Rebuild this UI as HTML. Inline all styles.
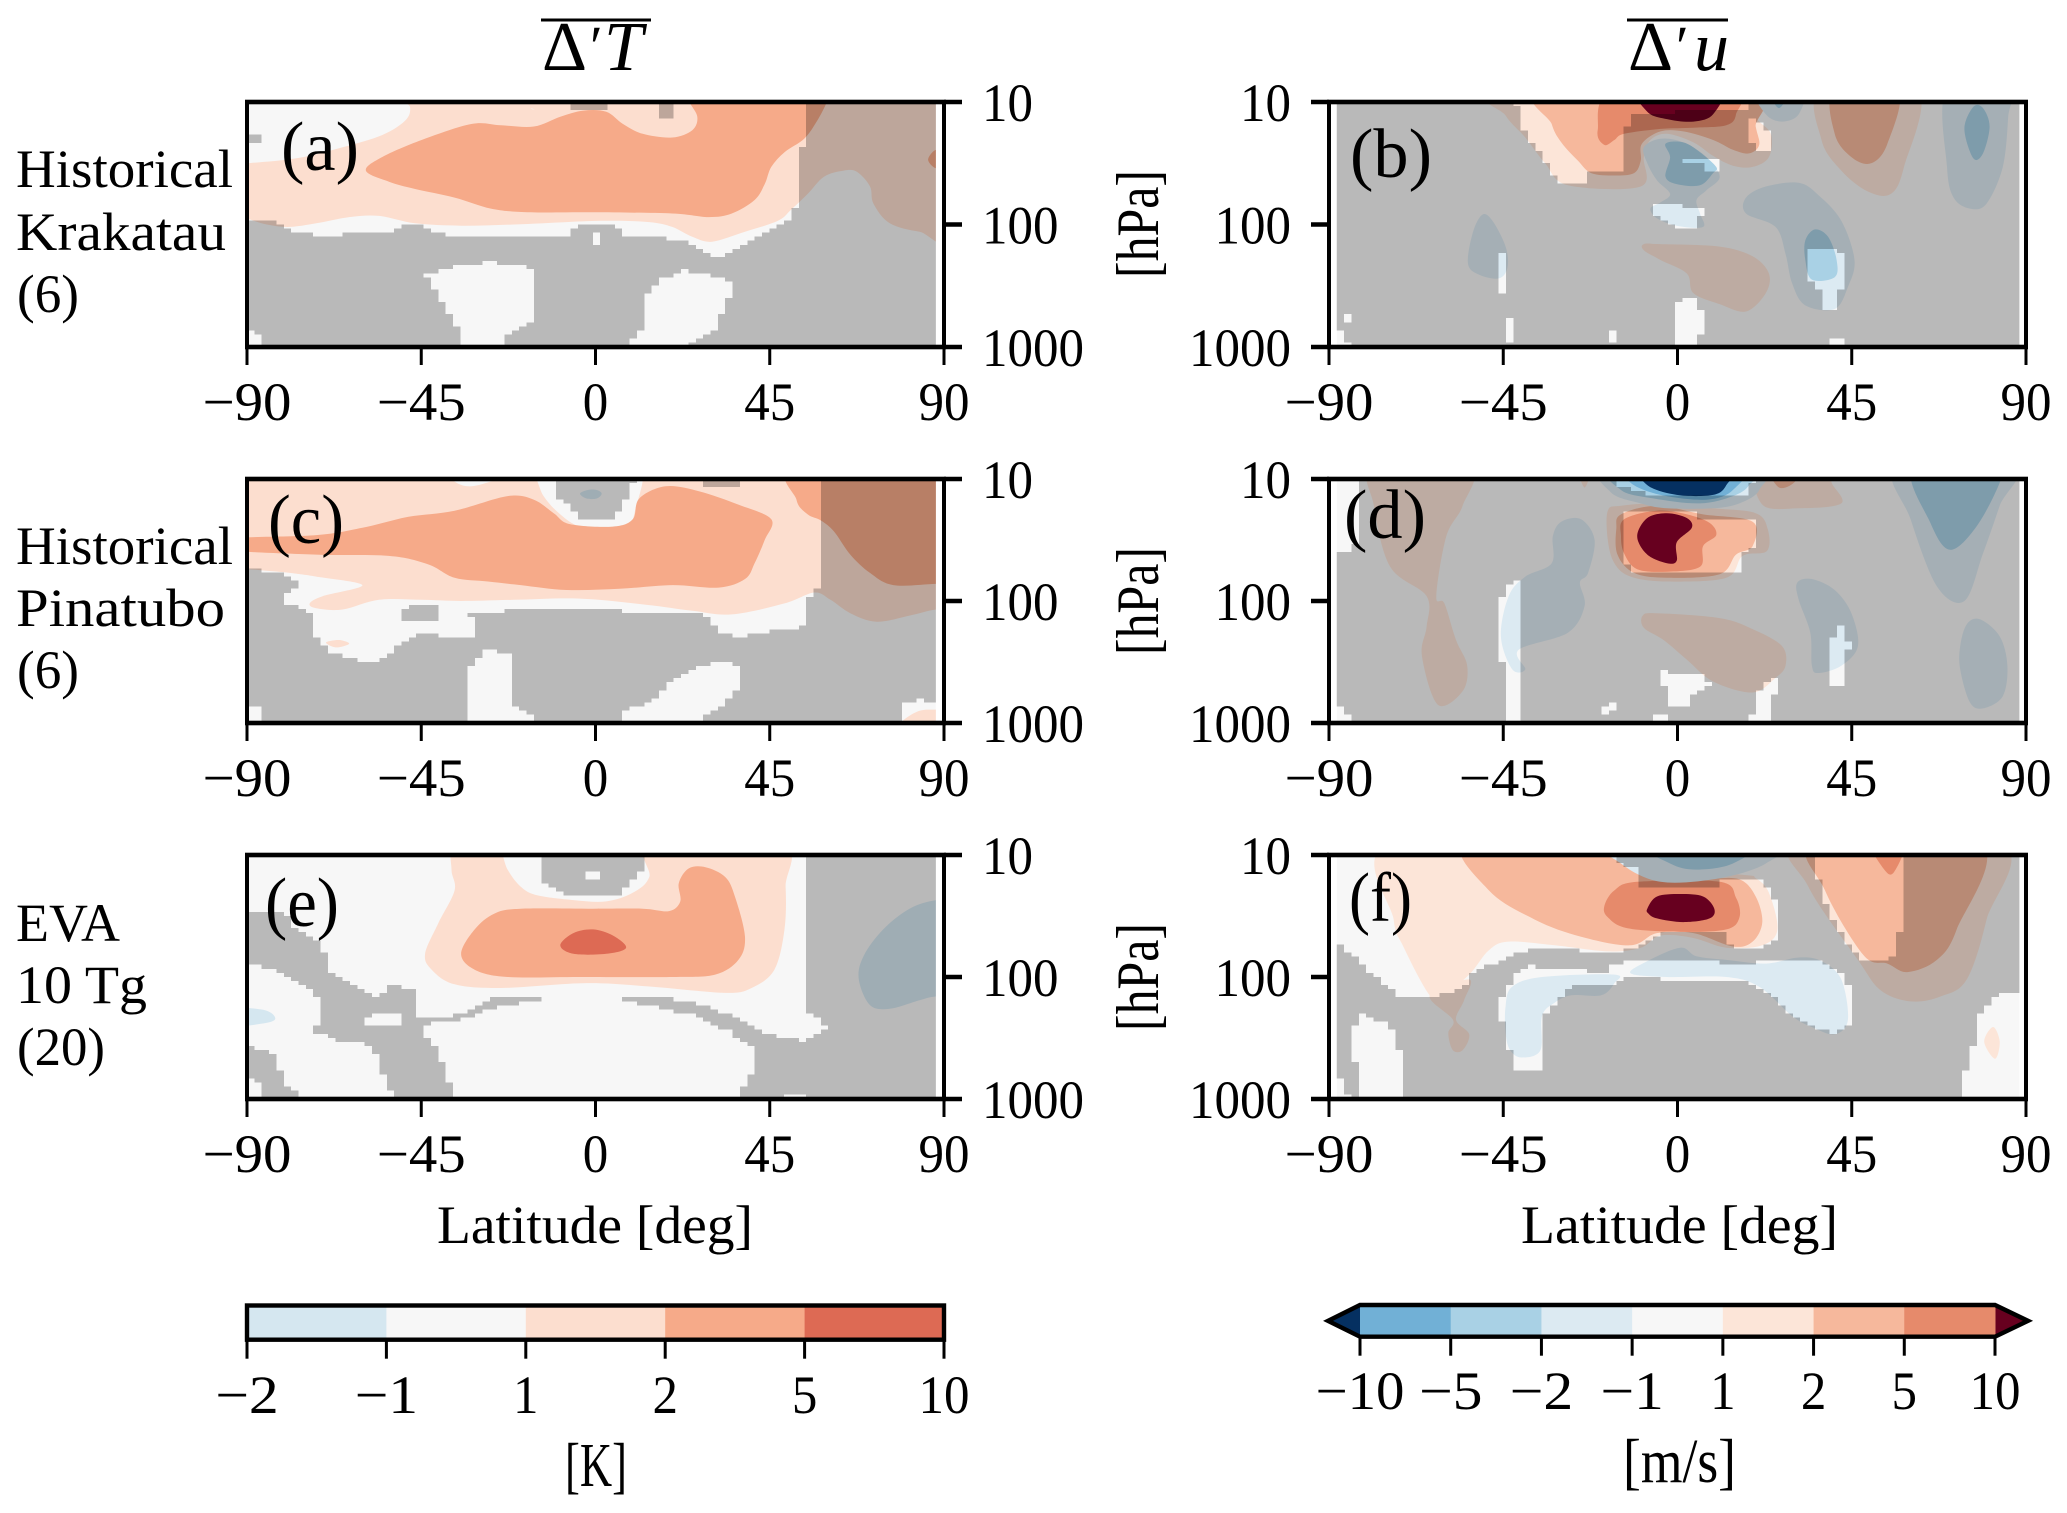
<!DOCTYPE html>
<html lang="en">
<head>
<meta charset="utf-8">
<title>Zonal mean temperature and wind anomalies</title>
<style>
html,body{margin:0;padding:0;background:#fff;width:2067px;height:1513px;overflow:hidden}
svg{display:block}
text{font-family:"Liberation Serif",serif;font-size:54px;fill:#000}
</style>
</head>
<body>
<svg id="figure" xmlns="http://www.w3.org/2000/svg" width="2067" height="1513" viewBox="0 0 2067 1513">
  <rect x="0" y="0" width="2067" height="1513" fill="#fff"/>
  <defs id="clips"></defs>
  <g id="panels"></g>
  <g id="colorbars"></g>

  <g>
    <line x1="541" x2="651" y1="20" y2="20" stroke="#000" stroke-width="3"/>
    <text y="70" style="font-size:70px"><tspan x="542">Δ</tspan><tspan x="590" y="66" style="font-size:58px">′</tspan><tspan x="604" y="70" font-style="italic">T</tspan></text>
  </g>
  <g>
    <line x1="1627" x2="1728" y1="20" y2="20" stroke="#000" stroke-width="3"/>
    <text y="70" style="font-size:70px"><tspan x="1628">Δ</tspan><tspan x="1676" y="66" style="font-size:58px">′</tspan><tspan x="1694" y="70" font-style="italic">u</tspan></text>
  </g>

  <text x="16" y="187" textLength="217" lengthAdjust="spacingAndGlyphs">Historical</text>
  <text x="16" y="250" textLength="210" lengthAdjust="spacingAndGlyphs">Krakatau</text>
  <text x="17" y="312" textLength="62" lengthAdjust="spacingAndGlyphs">(6)</text>
  <text x="16" y="564" textLength="217" lengthAdjust="spacingAndGlyphs">Historical</text>
  <text x="16" y="626" textLength="209" lengthAdjust="spacingAndGlyphs">Pinatubo</text>
  <text x="17" y="688" textLength="62" lengthAdjust="spacingAndGlyphs">(6)</text>
  <text x="16" y="941" textLength="104" lengthAdjust="spacingAndGlyphs">EVA</text>
  <text x="16" y="1003" textLength="131" lengthAdjust="spacingAndGlyphs">10 Tg</text>
  <text x="17" y="1065" textLength="88" lengthAdjust="spacingAndGlyphs">(20)</text>

  <text transform="translate(1158,278) rotate(-90)" style="font-size:60px" textLength="108" lengthAdjust="spacingAndGlyphs">[hPa]</text>
  <text transform="translate(1158,655) rotate(-90)" style="font-size:60px" textLength="108" lengthAdjust="spacingAndGlyphs">[hPa]</text>
  <text transform="translate(1158,1031) rotate(-90)" style="font-size:60px" textLength="108" lengthAdjust="spacingAndGlyphs">[hPa]</text>

  <text x="437" y="1243" textLength="316" lengthAdjust="spacingAndGlyphs">Latitude [deg]</text>
  <text x="1521" y="1243" textLength="317" lengthAdjust="spacingAndGlyphs">Latitude [deg]</text>
  <text x="565" y="1486" style="font-size:62px" textLength="62" lengthAdjust="spacingAndGlyphs">[K]</text>
  <text x="1623" y="1482" style="font-size:62px" textLength="113" lengthAdjust="spacingAndGlyphs">[m/s]</text>

  <g id="panel-letters">
    <text x="281" y="170" style="font-size:70px" textLength="78" lengthAdjust="spacingAndGlyphs">(a)</text>
    <text x="1350" y="177" style="font-size:70px" textLength="82" lengthAdjust="spacingAndGlyphs">(b)</text>
    <text x="268" y="543" style="font-size:70px" textLength="76" lengthAdjust="spacingAndGlyphs">(c)</text>
    <text x="1344" y="538" style="font-size:70px" textLength="82" lengthAdjust="spacingAndGlyphs">(d)</text>
    <text x="265" y="926" style="font-size:70px" textLength="74" lengthAdjust="spacingAndGlyphs">(e)</text>
    <text x="1349" y="921" style="font-size:70px" textLength="63" lengthAdjust="spacingAndGlyphs">(f)</text>
  </g>
</svg>

<script>
// ---- shared axis data ----
const latTicks = [-90, -45, 0, 45, 90];
const pressureTicks = [10, 100, 1000];
const tempBins = [-2, -1, 1, 2, 5, 10];
const windBins = [-10, -5, -2, -1, 1, 2, 5, 10];

// ---- panel (a) temperature: [level, [[lat, log10 hPa], ...]] ----
const panelAContours = [
 [1, [[-94,1.5],[-90,1.5],[-77.2,1.46],[-65.3,1.37],[-55.1,1.27],[-49.1,1.15],[-47.9,1.04],[-50,.93],[-21.9,.97],[-15.9,1.06],[-10.8,.97],[92,.9],[92,2.08],[83.7,2.06],[76,1.99],[71.8,1.83],[70.9,1.69],[67.5,1.57],[64.1,1.56],[59,1.61],[54.8,1.75],[50.5,1.88],[47.1,1.97],[38.6,2.06],[30.1,2.14],[25,2.1],[19.8,2.02],[13.9,1.98],[2.8,1.97],[-7.4,1.98],[-21,2],[-34.7,2.01],[-46.6,1.99],[-55.9,1.93],[-63.6,1.94],[-72.1,1.99],[-78.9,2.02],[-84.9,2],[-90,1.95],[-94,1.9]]],
 [2, [[-59.3,1.56],[-55.1,1.45],[-44.9,1.31],[-32.1,1.18],[-24.4,1.19],[-15.9,1.2],[-9.1,1.12],[-3.1,1.07],[2.8,1.08],[7.1,1.18],[12.2,1.26],[19.8,1.29],[25,1.23],[26.3,1.12],[24.1,.99],[24,.9],[60.7,.9],[59.9,.99],[57.3,1.15],[53.9,1.3],[48.8,1.41],[45.4,1.53],[43.7,1.67],[41.1,1.8],[35.2,1.91],[29.2,1.94],[19.8,1.91],[-.6,1.9],[-17.6,1.9],[-27,1.87],[-36.4,1.78],[-46.6,1.71],[-53.4,1.65]]],
 [2, [[88,1.39],[85.9,1.47],[88,1.54],[90,1.47]]]
];
const panelAOpenRegions = [
 [[-94,.9],[53.9,.9],[53.9,1.31],[51.9,1.5],[51.9,1.87],[48.8,1.98],[42,2.1],[33.5,2.25],[30.9,2.26],[26.7,2.18],[19.8,2.12],[6.2,2.09],[5.9,2.02],[-3.1,1.99],[-7.4,2.09],[-35.5,2.11],[-41.5,2.05],[-47.4,1.99],[-54.2,2.07],[-72.1,2.09],[-80.6,2.03],[-82.3,1.95],[-94,1.95]],
 [[-6,.9],[3.7,.9],[3.7,1.06],[-6,1.06]],
 [[16.1,.9],[19.8,.9],[19.8,1.13],[16.1,1.13]],
 [[-90,1.28],[-86,1.28],[-86,1.33],[-90,1.33]],
 [[-.6,2.08],[2,2.08],[2,2.15],[-.6,2.15]],
 [[-44,2.41],[-38.1,2.36],[-28.7,2.31],[-18.5,2.33],[-16.3,2.39],[-16.3,2.78],[-22.7,2.89],[-24.1,3.05],[-33.8,3.05],[-36.4,2.78],[-39.8,2.63],[-42.3,2.51]],
 [[16.4,2.46],[23.2,2.37],[31.8,2.43],[36,2.5],[33.5,2.67],[30.9,2.85],[25,2.97],[23.2,3.05],[5.4,3.05],[12.2,2.86],[12.2,2.71],[13.9,2.54]],
 [[-94,2.83],[-86,2.9],[-86,3.05],[-94,3.05]]
];

// ---- panel (b) wind ----
const panelBContours = [
 [1, [[-46.5,.9],[-44.4,1.11],[-39.3,1.29],[-34.2,1.5],[-28.3,1.68],[-9.5,1.69],[-8.7,1.45],[-7,1.31],[-2.7,1.26],[4.1,1.33],[9.2,1.44],[14.3,1.52],[19.4,1.53],[23.6,1.45],[24.1,1.26],[20.2,1.12],[18.5,.9]]],
 [1, [[37.2,.9],[37.2,1.31],[42.3,1.56],[49.1,1.73],[55.1,1.75],[58.5,1.53],[61.9,.9]]],
 [1, [[-8.7,2.16],[-4.4,2.16],[10.9,2.18],[19.4,2.26],[23.6,2.4],[22.8,2.56],[17.7,2.71],[10.9,2.65],[4.1,2.56],[2.4,2.4],[-4.4,2.29],[-8.7,2.21]]],
 [2, [[-34.2,.9],[-32.5,1.18],[-30,1.33],[-25.7,1.48],[-22.3,1.58],[-16.3,1.6],[-11.2,1.58],[-9.5,1.48],[-9.2,1.34],[-4.4,1.24],[1.5,1.24],[9.2,1.31],[14.3,1.39],[18.5,1.42],[21.1,1.35],[20.2,1.2],[18.5,.9]]],
 [2, [[40.6,.9],[40.6,1.26],[44.9,1.45],[50,1.5],[54.2,1.34],[56.8,.9]]],
 [5, [[-16.3,.9],[-20.6,1.23],[-18.9,1.35],[-16.3,1.31],[-13.8,1.26],[-4.4,1.22],[4.1,1.21],[12.6,1.19],[15.1,1.1],[14.3,.9]]],
 [10, [[-9.5,.9],[-7.8,1.08],[-2.7,1.14],[4.1,1.16],[9.2,1.1],[10.4,.9]]],
 [-1, [[-8.7,1.37],[-4.4,1.3],[1.5,1.33],[7.5,1.45],[10.9,1.61],[7.5,1.72],[4.9,1.8],[5.8,1.91],[6.6,2.02],[-.2,2.01],[-5.3,1.95],[-7,1.87],[-4.4,1.82],[-1.9,1.75],[-5.3,1.64],[-7.8,1.5]]],
 [-2, [[-3.1,1.34],[1.5,1.33],[5.8,1.41],[10,1.53],[9.2,1.58],[5.8,1.68],[-.2,1.67],[-3.1,1.61],[-1.9,1.45]]],
 [-1, [[20.2,.9],[22.8,1.1],[27,1.16],[31.3,1.1],[32.1,.9]]],
 [-2, [[23.6,.9],[26.2,1.05],[28.7,.9]]],
 [-1, [[69.6,.9],[69.6,1.53],[71.3,1.78],[75.5,1.87],[79.8,1.83],[84,1.53],[85.4,1.12],[85.4,.9]]],
 [-2, [[76.4,1.04],[74.1,1.22],[76.4,1.46],[78.9,1.42],[80.6,1.2],[78.9,1.05]]],
 [-1, [[17.7,1.78],[22.8,1.69],[31.3,1.66],[36.4,1.76],[42.3,1.97],[45.7,2.29],[44,2.51],[40.6,2.69],[33,2.66],[29.6,2.48],[27.9,2.24],[25.3,2.02],[17.7,1.91]]],
 [-2, [[35.5,2.04],[38.9,2.1],[41.1,2.29],[40.6,2.43],[34.7,2.45],[33,2.29],[33,2.13]]],
 [-1, [[-50.4,1.92],[-47.8,1.97],[-44.4,2.18],[-43.9,2.35],[-46.1,2.44],[-51.2,2.41],[-54.1,2.32],[-52.9,2.07]]]
];
const panelBOpenRegions = [
 [[-41.9,.9],[18.5,.9],[18.5,1.05],[10,1.06],[-7,1.1],[-12.1,1.12],[-14.1,1.34],[-14.1,1.5],[-14.6,1.57],[-24,1.58],[-24,1.66],[-30,1.66],[-33.4,1.53],[-35.9,1.39],[-39.3,1.26],[-41,1.15]],
 [[17.7,1.12],[20.2,1.12],[24.1,1.26],[24.1,1.4],[20.2,1.4],[18.5,1.26]],
 [[2,1.45],[10,1.45],[10,1.56],[6.1,1.56],[6.1,1.5],[2,1.5]],
 [[-5.8,1.84],[1.5,1.84],[2,1.88],[7.8,1.88],[7.8,1.91],[5.8,1.92],[5.8,2.02],[.3,2.02],[-3.6,1.98],[-3.6,1.94],[-5.8,1.92]],
 [[-46.1,2.23],[-44,2.23],[-44,2.55],[-46.1,2.55]],
 [[33.8,2.21],[36.4,2.2],[41.5,2.2],[44,2.26],[44,2.48],[41.8,2.56],[41.8,2.69],[38.1,2.69],[38.1,2.56],[36,2.51],[33.8,2.44]],
 [[-.2,2.62],[4.1,2.59],[5.8,2.69],[7.8,2.7],[7.8,2.86],[5.8,2.89],[4.1,3.05],[-.2,3.05]],
 [[-43.9,2.76],[-41.9,2.76],[-41.9,2.95],[-43.9,2.95]],
 [[-18,2.85],[-16,2.85],[-16,2.95],[-18,2.95]],
 [[39.8,2.94],[44,2.94],[44,3.05],[39.8,3.05]],
 [[-92,2.87],[-86,2.87],[-86,2.95],[-84,2.97],[-84,3.05],[-92,3.05]],
 [[-86,2.74],[-84,2.74],[-84,2.8],[-86,2.8]]
];

// ---- panel (c) temperature ----
const panelCContours = [
 [1, [[-95,.9],[-38.1,.9],[-37.2,1],[-33,1.06],[-27,1.02],[-17.6,.9],[-13.4,1.14],[-9.1,1.29],[-4,1.39],[3.7,1.4],[8.8,1.37],[10.5,1.22],[12.2,1.01],[11.3,.9],[95,.9],[95,2.07],[88,2.07],[81.1,2.12],[72.6,2.17],[65.8,2.1],[60.7,1.99],[56.5,1.93],[48.8,2.02],[35.2,2.11],[25,2.08],[13,2.03],[-4,1.98],[-21,1.99],[-34.7,2],[-44.9,1.99],[-55.9,1.99],[-65.3,2.07],[-72.1,2.06],[-73.8,2.02],[-70.4,1.96],[-60.2,1.87],[-72.1,1.8],[-78.9,1.77],[-85.7,1.75],[-90,1.74],[-95,1.74]]],
 [1, [[-69.6,2.34],[-66.2,2.32],[-63.6,2.35],[-67,2.38]]],
 [1, [[79.4,2.98],[83.7,2.9],[88,2.89],[95,2.89],[95,3.1],[76,3.1]]],
 [2, [[-95,1.49],[-72.1,1.46],[-60.2,1.4],[-48.3,1.31],[-36.4,1.26],[-22.7,1.14],[-15.9,1.17],[-10.8,1.28],[-6.6,1.37],[4.5,1.39],[9.6,1.33],[11.3,1.16],[18.1,1.06],[26.7,1.1],[36.9,1.21],[45.4,1.33],[43.7,1.5],[41.1,1.69],[38.6,1.82],[31.8,1.89],[19.8,1.87],[6.2,1.9],[-7.4,1.91],[-19.3,1.87],[-27.8,1.84],[-36.4,1.81],[-43.2,1.7],[-53.4,1.63],[-72.1,1.62],[-95,1.58]]],
 [2, [[52.2,.9],[51.9,1.17],[54.8,1.29],[58.2,1.34],[61.6,1.43],[65.8,1.62],[70.9,1.77],[76.9,1.87],[88,1.86],[95,1.86],[95,.9]]],
 [-1, [[-4,1.12],[-2,1.09],[.3,1.09],[1.6,1.12],[.3,1.16],[-2.3,1.16]]]
];
const panelCOpenRegions = [
 [[-95,.9],[57.8,.9],[57.8,1.87],[55.6,1.94],[54.8,2.07],[53.9,2.21],[48.8,2.23],[36.9,2.29],[31.8,2.25],[30.1,2.15],[26.7,2.11],[4.5,2.08],[-8.3,2.06],[-27.8,2.09],[-32.1,2.11],[-30.4,2.32],[-36.4,2.3],[-44.9,2.27],[-48.3,2.3],[-51.7,2.4],[-55.1,2.48],[-60.2,2.49],[-67.9,2.43],[-70.4,2.37],[-72.1,2.3],[-72.5,2.15],[-75.5,2.07],[-79.8,2.02],[-79.8,1.93],[-76.4,1.89],[-76.4,1.84],[-81.5,1.76],[-90,1.74],[-95,1.74]],
 [[-12,.9],[-10,1.13],[-6.6,1.24],[-4,1.33],[3.7,1.33],[7.1,1.22],[10,1.02],[10,.9]],
 [[28,.9],[37.7,.9],[37.7,1.05],[28,1.05]],
 [[-50,2.07],[-47.4,2.02],[-42.3,2.02],[-40.1,2.08],[-40.6,2.15],[-44.9,2.18],[-50,2.17]],
 [[-32.1,2.53],[-29.5,2.43],[-27,2.38],[-22.4,2.45],[-22.4,2.83],[-15.9,2.96],[-15.9,3.05],[-32.1,3.05]],
 [[6.2,3.05],[6.2,2.93],[16.4,2.78],[18.1,2.68],[25,2.56],[33.5,2.49],[37.7,2.55],[37.7,2.68],[33.5,2.83],[28.4,2.93],[28.4,3.05]],
 [[-95,2.82],[-86,2.87],[-86,3.05],[-95,3.05]],
 [[79.8,2.83],[83.7,2.81],[88,2.85],[95,2.85],[95,3.05],[79.8,3.05]]
];

// ---- panel (d) wind ----
const panelDContours = [
 [1, [[-78.4,.9],[-78.4,1.22],[-74.2,1.72],[-64.8,1.96],[-64.8,2.21],[-66,2.45],[-61.9,2.85],[-55.5,2.74],[-54.3,2.53],[-57.2,2.32],[-60.2,2.02],[-62.3,1.96],[-59.7,1.47],[-55.5,1.22],[-53.8,.9]]],
 [1, [[-25.7,.9],[-24,1.07],[-22.3,.9]]],
 [1, [[21.1,.9],[21.9,1.21],[31.3,1.24],[42.3,1.2],[39.8,1.03],[38.9,.9]]],
 [2, [[23.6,.9],[26.2,1.07],[30.4,1.02],[30.4,.9]]],
 [1, [[-9,2.12],[-5.3,2.1],[10.9,2.14],[19.4,2.23],[27,2.37],[27.9,2.53],[25.3,2.63],[19.4,2.75],[9.2,2.66],[2.4,2.48],[-3.6,2.32],[-8.7,2.22]]],
 [1, [[-18,1.26],[-14.6,1.22],[-4.4,1.2],[9.2,1.24],[20.2,1.28],[23.3,1.41],[23.1,1.59],[16.8,1.63],[12.6,1.81],[-2.7,1.84],[-12.1,1.8],[-16.3,1.69],[-18,1.5]]],
 [2, [[-15.8,1.41],[-14.6,1.29],[-5.3,1.22],[6.6,1.29],[19.4,1.35],[19.4,1.55],[15.1,1.62],[10.9,1.78],[-2.7,1.81],[-11.2,1.77],[-15.5,1.62]]],
 [5, [[-14.6,1.47],[-13.8,1.33],[-5.3,1.26],[2.4,1.29],[8.3,1.36],[10,1.46],[6.6,1.55],[5.8,1.72],[-2.7,1.76],[-10.4,1.74],[-13.8,1.61]]],
 [10, [[-10.4,1.47],[-7.8,1.32],[-2.7,1.28],[2.4,1.32],[3.7,1.4],[-.2,1.52],[-.2,1.67],[-2.7,1.69],[-7.8,1.62]]],
 [-1, [[-18,.9],[-17.2,1.11],[-9.5,1.2],[-2.7,1.24],[9.2,1.24],[16,1.2],[21.1,1.09],[20.2,.9]]],
 [-2, [[-16.3,.9],[-14.6,1.09],[-6.1,1.16],[5.8,1.2],[14.3,1.14],[18.5,1.05],[19.4,.9]]],
 [-5, [[-12.1,.9],[-12.1,1.03],[-4.4,1.13],[7.5,1.17],[14.3,1.09],[16,.9]]],
 [-10, [[-8.7,.9],[-7.8,1.05],[-.2,1.13],[9.2,1.13],[12.6,1.05],[13.4,.9]]],
 [-1, [[56.8,.9],[60.2,1.33],[67,1.88],[74.1,2],[78.9,1.61],[83.2,1.22],[86.6,.9]]],
 [-2, [[61,.9],[65.3,1.36],[70.4,1.58],[77.2,1.39],[83.2,1.03],[83.2,.9]]],
 [-1, [[-32.2,1.47],[-30,1.35],[-24.9,1.33],[-21.4,1.5],[-23.1,1.77],[-25.2,1.85],[-24,2.04],[-28.3,2.26],[-41,2.4],[-39.3,2.56],[-42.7,2.56],[-45.6,2.29],[-43.6,1.96],[-39.3,1.8],[-32.5,1.69]]],
 [-1, [[30.9,1.85],[34.7,1.82],[40.6,1.91],[44.9,2.1],[46.6,2.37],[42.3,2.53],[36.4,2.59],[34.7,2.53],[34.3,2.26],[31.3,1.99]]],
 [-1, [[73,2.37],[74.7,2.19],[78.1,2.15],[83.2,2.29],[85.2,2.53],[84,2.78],[78.9,2.88],[75.5,2.83],[73,2.56]]]
];
const panelDOpenRegions = [
 [[-92,.9],[-81.5,.9],[-81.5,1.5],[-86.1,1.61],[-87.8,1.62],[-92,1.62]],
 [[-16,.9],[19.7,.9],[19.7,1.03],[17.7,1.12],[12.6,1.12],[10,1.13],[-8,1.13],[-10,1.09],[-16,1.07]],
 [[-14.1,1.26],[5.8,1.26],[5.8,1.33],[19.7,1.33],[19.7,1.55],[16,1.62],[16,1.78],[11.7,1.78],[6.1,1.76],[-7.8,1.78],[-12.1,1.74],[-14.1,1.63]],
 [[-45.6,1.99],[-43.9,1.87],[-41.9,1.83],[-39.8,1.83],[-39.8,3.05],[-43.9,3.05],[-43.9,2.51],[-45.6,2.49]],
 [[40.1,2.29],[41.8,2.2],[43.9,2.2],[43.9,2.33],[45.9,2.35],[45.9,2.4],[43.9,2.41],[43.9,2.71],[40.1,2.7]],
 [[-3.9,2.58],[6.6,2.59],[8.3,2.7],[4.1,2.75],[4.1,2.85],[-1.9,2.85],[-1.9,2.73],[-3.9,2.7]],
 [[20.2,2.78],[24.1,2.63],[26.2,2.63],[23.6,2.94],[26.2,3.05],[17.7,3.05],[20.2,2.89]],
 [[-19.7,2.89],[-16,2.81],[-16,2.89],[-19.7,2.93]],
 [[-5.8,2.92],[-1.9,2.92],[-1.9,3.05],[-5.8,3.05]],
 [[-92,2.85],[-86,2.87],[-84,3.05],[-92,3.05]]
];

// ---- panel (e) temperature ----
const panelEContours = [
 [1, [[-36.4,.9],[-37.2,1.12],[-36.4,1.29],[-40.6,1.56],[-44,1.81],[-42.3,1.94],[-36.4,2.06],[-24.4,2.09],[-2.3,2.05],[14.7,2.08],[33.5,2.13],[40.3,2.09],[46.2,1.94],[48.8,1.61],[49.1,1.26],[47.9,.9],[14.7,.9],[13.9,1.18],[9.6,1.31],[2.8,1.38],[-5.7,1.37],[-15.1,1.33],[-19.3,1.26],[-22.7,1.12],[-26.1,.9]]],
 [2, [[-34.7,1.81],[-31.2,1.61],[-26.1,1.48],[-19.3,1.44],[-.6,1.44],[12.2,1.44],[19,1.46],[21.9,1.38],[21.5,1.23],[24.1,1.11],[28.4,1.1],[33.5,1.18],[36,1.34],[38.6,1.67],[36.9,1.86],[30.9,1.98],[19.8,2],[-4,2],[-22.7,2],[-31.2,1.94]]],
 [5, [[-9.1,1.74],[-5.7,1.64],[-.6,1.61],[4.5,1.66],[7.9,1.76],[2.8,1.81],[-5.7,1.81]]],
 [-1, [[88,1.37],[81.1,1.44],[74.3,1.61],[69.2,1.83],[68,2.02],[70.9,2.23],[76,2.26],[83.7,2.19],[88,2.16],[95,2.16],[95,1.37]]],
 [-1, [[-95,2.26],[-85.7,2.27],[-82.7,2.34],[-85.7,2.38],[-95,2.4]]]
];
const panelEOpenRegions = [
 [[-95,.9],[53.9,.9],[53.9,2.26],[57.3,2.32],[59.9,2.43],[53.1,2.52],[43.7,2.47],[35.2,2.32],[30.1,2.26],[23.2,2.19],[6.2,2.15],[-24.4,2.15],[-36.4,2.32],[-46.2,2.33],[-46.6,2.12],[-51.7,2.06],[-56.8,2.15],[-67.9,1.98],[-69.6,1.89],[-70.4,1.71],[-78.9,1.59],[-79.8,1.46],[-95,1.46]],
 [[-14.2,.9],[12.2,.9],[12.2,1.12],[7.9,1.27],[5.4,1.34],[-6,1.34],[-10,1.27],[-14.2,1.2]],
 [[-2,1.14],[2,1.14],[2,1.2],[-2,1.2]],
 [[-95,1.91],[-86.6,1.91],[-80.6,1.98],[-72.1,2.13],[-70.4,2.35],[-73.8,2.43],[-67,2.52],[-57.6,2.56],[-55.1,2.79],[-50.8,3.05],[-73.8,3.05],[-80.6,2.86],[-83.2,2.62],[-90,2.57],[-95,2.57]],
 [[-95,2.8],[-86,2.87],[-86,3.05],[-95,3.05]],
 [[-60.2,2.41],[-58.5,2.32],[-54.2,2.28],[-50,2.32],[-50,2.38],[-52.5,2.41]],
 [[-44,2.39],[-34.7,2.35],[-24.4,2.24],[-14.2,2.18],[6.2,2.18],[16.4,2.25],[26.7,2.32],[35.2,2.46],[40.3,2.57],[41.6,2.73],[38.6,2.87],[36,3.05],[-36,3.05],[-38.1,2.82],[-40.6,2.65],[-42.3,2.52],[-44,2.49]],
 [[47.9,2.95],[53.9,2.97],[56.5,3.05],[47.9,3.05]]
];

// ---- panel (f) wind ----
const panelFContours = [
 [1, [[-74.2,.9],[-73.3,1.53],[-70.8,1.75],[-64,2.15],[-60.6,2.15],[-53.8,1.98],[-48.7,1.78],[-43.6,1.71],[-31.7,1.74],[-18,1.79],[-9.5,1.76],[-4.4,1.66],[4.1,1.68],[12.6,1.76],[21.9,1.74],[25.8,1.61],[23.6,1.31],[20.2,1.19],[16,1.16],[-14.6,1.08],[-16.3,.9]]],
 [1, [[-64,2.15],[-53.8,2.02],[-55.1,2.19],[-57.2,2.35],[-53.8,2.47],[-55.5,2.6],[-58,2.6],[-59.2,2.46],[-58,2.35]]],
 [1, [[32.1,.9],[33.8,1.26],[46.6,1.86],[52.5,2.11],[60.2,2.2],[67.9,2.16],[74.7,2.02],[79.8,1.53],[83.2,.9]]],
 [1, [[81.5,2.41],[83.2,2.53],[82,2.67],[79.2,2.53]]],
 [2, [[-54.6,.9],[-48.7,1.29],[-36.8,1.53],[-24.9,1.67],[-12.1,1.74],[-5.3,1.64],[4.1,1.64],[14.3,1.75],[19.4,1.71],[21.9,1.55],[20.2,1.34],[16,1.2],[7.5,1.19],[-6.1,1.16],[-15.5,1.05],[-19.7,.9]]],
 [2, [[35.9,.9],[38.1,1.29],[48,1.82],[54.2,1.89],[59.4,1.96],[67,1.86],[72.1,1.61],[78.1,.9]]],
 [5, [[-18.9,1.42],[-16.3,1.29],[-10.4,1.22],[10.9,1.22],[15.1,1.35],[16,1.51],[12.6,1.61],[.7,1.63],[-12.9,1.6],[-18,1.51]]],
 [5, [[50,.9],[53.4,1.12],[55.9,1.14],[58.5,.9]]],
 [10, [[-7.8,1.44],[-5.3,1.34],[.7,1.32],[6.6,1.34],[9.5,1.44],[8.3,1.52],[1.5,1.55],[-5.3,1.52],[-7.5,1.48]]],
 [-1, [[-17.2,.9],[-14.6,1.07],[-4.4,1.22],[10.9,1.19],[22.8,1.07],[25.3,.9]]],
 [-2, [[-8.7,.9],[-1.9,1.07],[4.9,1.12],[14.3,1.07],[19.4,.9]]],
 [-1, [[-44.4,2.24],[-42.7,2.08],[-35,2],[-16.3,1.98],[-16.3,2.05],[-19.7,2.15],[-27.4,2.15],[-31.7,2.21],[-35,2.32],[-35.4,2.6],[-40.2,2.66],[-43.2,2.6],[-44.4,2.46]]],
 [-1, [[-12.1,1.97],[-7.8,1.87],[.7,1.76],[4.9,1.83],[12.6,1.86],[22.8,1.89],[31.3,1.84],[37.2,1.87],[42.3,2.02],[44,2.35],[40.6,2.47],[34.7,2.41],[29.6,2.32],[21.1,2.08],[12.6,2],[-2.7,2]]]
];
const panelFOpenRegions = [
 [[-92,.9],[-15.5,.9],[-15.5,1.05],[-10.4,1.12],[-10.4,1.27],[11.7,1.27],[11.7,1.2],[21.9,1.2],[23.6,1.29],[26.2,1.45],[26.2,1.66],[21.9,1.75],[14.3,1.75],[11.7,1.63],[-4.4,1.63],[-5.3,1.66],[-10.4,1.76],[-16.3,1.8],[-24,1.79],[-33.4,1.75],[-40.2,1.79],[-45.3,1.85],[-48.7,1.91],[-53.8,1.98],[-54.6,2.05],[-60.6,2.15],[-65.7,2.17],[-71.6,2.17],[-75.9,2.05],[-82.7,1.86],[-87.8,1.71],[-92,1.71]],
 [[-45.3,2.16],[-41.9,1.97],[-39.3,1.91],[-24.9,1.94],[-18,1.98],[-18,1.91],[-12.1,1.87],[-8.7,1.85],[5.8,1.85],[10.9,1.89],[16,1.9],[26.2,1.85],[36.4,1.85],[41.5,1.94],[45.7,2.13],[45.7,2.37],[43.2,2.43],[40.6,2.47],[34.7,2.41],[29.6,2.32],[24.5,2.16],[19.4,2.06],[12.6,2.02],[-3.6,2.02],[-12.1,1.98],[-16.3,2.06],[-19.7,2.06],[-27.4,2.08],[-31.7,2.24],[-34.2,2.32],[-34.2,2.77],[-39.3,2.78],[-41.9,2.75],[-43.6,2.57],[-43.6,2.36],[-45.3,2.36]],
 [[35.9,.9],[58.2,.9],[58.2,1.61],[56,1.63],[56,1.83],[53.4,1.87],[48,1.87],[44,1.74],[40.6,1.56],[38.1,1.4],[36.4,1.2]],
 [[-81.8,2.31],[-78.4,2.34],[-74.2,2.39],[-71.6,2.62],[-71.6,2.84],[-69.9,3.05],[-82.7,3.05],[-82.7,2.76],[-83.9,2.62],[-83.9,2.43]],
 [[-92,2.8],[-87.8,2.8],[-85.5,2.94],[-84,3.05],[-92,3.05]],
 [[72.1,3.05],[74.1,2.79],[76.4,2.57],[76.4,2.38],[78.9,2.28],[82.3,2.16],[85.7,2.12],[92,2.15],[92,3.05]]
];

// ---- styling and layout (not data) ----
const NS = 'http://www.w3.org/2000/svg';
const tempColors = {'-1':'#d5e7f0','1':'#fcdecf','2':'#f6aa89','5':'#dd6a54'};
const windColors = {'-10':'#053061','-5':'#71b0d6','-2':'#a9d1e5','-1':'#dceaf2','1':'#fce5d8','2':'#f6b89c','5':'#e68a6b','10':'#67001f'};
const tempBarColors = ['#d5e7f0','#f7f7f7','#fcdecf','#f6aa89','#dd6a54'];
const windBarColors = ['#71b0d6','#a9d1e5','#dceaf2','#f7f7f7','#fce5d8','#f6b89c','#e68a6b'];
const COLS = [{x:247,w:697},{x:1329,w:697}];
const ROWS = [{y:102,h:245},{y:479,h:244},{y:855,h:244}];
const panelSpecs = [
 {id:'a',col:0,row:0,contours:panelAContours,open:panelAOpenRegions,colors:tempColors,latMin:-90,latMax:87.9},
 {id:'b',col:1,row:0,contours:panelBContours,open:panelBOpenRegions,colors:windColors,latMin:-88,latMax:88.3},
 {id:'c',col:0,row:1,contours:panelCContours,open:panelCOpenRegions,colors:tempColors,latMin:-90,latMax:87.9},
 {id:'d',col:1,row:1,contours:panelDContours,open:panelDOpenRegions,colors:windColors,latMin:-88,latMax:88.3},
 {id:'e',col:0,row:2,contours:panelEContours,open:panelEOpenRegions,colors:tempColors,latMin:-90,latMax:87.9},
 {id:'f',col:1,row:2,contours:panelFContours,open:panelFOpenRegions,colors:windColors,latMin:-88,latMax:88.3}
];
const CELL_LAT = 1.9, CELL_LOG = 0.0333;

function svgEl(tag){ return document.createElementNS(NS, tag); }
function xScale(col, lat){ return COLS[col].x + (lat + 90) / 180 * COLS[col].w; }
function yScale(row, logP){ return ROWS[row].y + (logP - 1) / 2 * ROWS[row].h; }
function smoothPath(points){
  const n = points.length;
  let d = 'M' + points[0][0].toFixed(1) + ' ' + points[0][1].toFixed(1);
  for (let i = 0; i < n; i++) {
    const p0 = points[(i - 1 + n) % n], p1 = points[i], p2 = points[(i + 1) % n], p3 = points[(i + 2) % n];
    const c1x = p1[0] + (p2[0] - p0[0]) / 6, c1y = p1[1] + (p2[1] - p0[1]) / 6;
    const c2x = p2[0] - (p3[0] - p1[0]) / 6, c2y = p2[1] - (p3[1] - p1[1]) / 6;
    d += 'C' + c1x.toFixed(1) + ' ' + c1y.toFixed(1) + ' ' + c2x.toFixed(1) + ' ' + c2y.toFixed(1) + ' ' + p2[0].toFixed(1) + ' ' + p2[1].toFixed(1);
  }
  return d + 'Z';
}
function insidePolygon(lat, logP, poly){
  let inside = false;
  for (let i = 0, j = poly.length - 1; i < poly.length; j = i++) {
    const a = poly[i], b = poly[j];
    if ((a[1] > logP) !== (b[1] > logP) && lat < (b[0] - a[0]) * (logP - a[1]) / (b[1] - a[1]) + a[0]) inside = !inside;
  }
  return inside;
}
function cellIsOpen(lat, logP, regions){
  let open = false;
  for (const poly of regions) { if (insidePolygon(lat, logP, poly)) open = !open; }
  return open;
}
function maskPath(spec){
  let d = '';
  for (let r = 0; 1 + r * CELL_LOG < 3; r++) {
    const logA = 1 + r * CELL_LOG, logB = Math.min(3, logA + CELL_LOG), logMid = (logA + logB) / 2;
    let runStart = null;
    const nCols = Math.ceil((spec.latMax - spec.latMin) / CELL_LAT);
    for (let c = 0; c <= nCols; c++) {
      const latA = spec.latMin + c * CELL_LAT;
      const masked = c < nCols && !cellIsOpen(latA + CELL_LAT / 2, logMid, spec.open);
      if (masked && runStart === null) runStart = latA;
      if (!masked && runStart !== null) {
        const x0 = xScale(spec.col, runStart), x1 = xScale(spec.col, Math.min(latA, spec.latMax));
        const y0 = yScale(spec.row, logA), y1 = yScale(spec.row, logB);
        d += 'M' + x0.toFixed(1) + ' ' + y0.toFixed(1) + 'H' + x1.toFixed(1) + 'V' + y1.toFixed(1) + 'H' + x0.toFixed(1) + 'Z';
        runStart = null;
      }
    }
  }
  return d;
}
function labelWidth(str){
  let w = 0;
  for (const ch of str) { w += ch === '\u2212' ? 38 : 25.5; }
  return w;
}
function numberText(v){ return (v < 0 ? '\u2212' : '') + Math.abs(v); }

const panelsGroup = document.getElementById('panels');
const clips = document.getElementById('clips');

for (const spec of panelSpecs) {
  const left = xScale(spec.col, spec.latMin), right = xScale(spec.col, spec.latMax);
  const top = yScale(spec.row, 1), bottom = yScale(spec.row, 3);

  const clip = svgEl('clipPath');
  clip.setAttribute('id', 'clip-' + spec.id);
  const clipRect = svgEl('rect');
  clipRect.setAttribute('x', left);
  clipRect.setAttribute('y', top);
  clipRect.setAttribute('width', right - left);
  clipRect.setAttribute('height', bottom - top);
  clip.appendChild(clipRect);
  clips.appendChild(clip);

  const panel = svgEl('g');
  
  
  panelsGroup.appendChild(panel);

  const field = svgEl('g');
  
  
  field.setAttribute('clip-path', 'url(#clip-' + spec.id + ')');
  panel.appendChild(field);

  const base = svgEl('rect');
  
  
  base.setAttribute('x', left);
  base.setAttribute('y', top);
  base.setAttribute('width', right - left);
  base.setAttribute('height', bottom - top);
  base.setAttribute('fill', '#f7f7f7');
  field.appendChild(base);

  for (const layer of spec.contours) {
    const pts = layer[1].map(p => [xScale(spec.col, p[0]), yScale(spec.row, p[1])]);
    const shape = svgEl('path');
    
    
    shape.setAttribute('d', smoothPath(pts));
    shape.setAttribute('fill', spec.colors[String(layer[0])]);
    field.appendChild(shape);
  }

  const mask = svgEl('path');
  
  
  mask.setAttribute('d', maskPath(spec));
  mask.setAttribute('fill', 'rgba(0,0,0,0.25)');
  mask.setAttribute('shape-rendering', 'crispEdges');
  field.appendChild(mask);

  const frameX = COLS[spec.col].x, frameW = COLS[spec.col].w;
  const frameParts = [
    [frameX - 2, top - 2.3, frameW + 4, 4.6],
    [frameX - 2, bottom - 2.3, frameW + 4, 4.6],
    [frameX - 2, top, 4, bottom - top],
    [frameX + frameW - 2, top, 4, bottom - top]
  ];
  for (const part of frameParts) {
    const spine = svgEl('rect');
    
    
    spine.setAttribute('x', part[0]);
    spine.setAttribute('y', part[1]);
    spine.setAttribute('width', part[2]);
    spine.setAttribute('height', part[3]);
    spine.setAttribute('fill', '#000');
    panel.appendChild(spine);
  }

  const baselineOffset = 73;
  for (const lat of latTicks) {
    const tx = xScale(spec.col, lat);
    const tick = svgEl('line');
    
    
    tick.setAttribute('x1', tx);
    tick.setAttribute('x2', tx);
    tick.setAttribute('y1', bottom);
    tick.setAttribute('y2', bottom + 18);
    tick.setAttribute('stroke', '#000');
    tick.setAttribute('stroke-width', 3);
    panel.appendChild(tick);

    const str = numberText(lat);
    const label = svgEl('text');
    
    
    label.setAttribute('x', tx);
    label.setAttribute('y', bottom + baselineOffset);
    label.setAttribute('text-anchor', 'middle');
    label.setAttribute('textLength', labelWidth(str));
    label.setAttribute('lengthAdjust', 'spacingAndGlyphs');
    label.textContent = str;
    panel.appendChild(label);
  }

  for (const p of pressureTicks) {
    const ty = yScale(spec.row, Math.log10(p));
    const onRight = spec.col === 0;
    const ax = onRight ? frameX + frameW : frameX;
    const tick = svgEl('line');
    
    
    tick.setAttribute('x1', ax);
    tick.setAttribute('x2', onRight ? ax + 18 : ax - 18);
    tick.setAttribute('y1', ty);
    tick.setAttribute('y2', ty);
    tick.setAttribute('stroke', '#000');
    tick.setAttribute('stroke-width', 4.6);
    panel.appendChild(tick);

    const str = String(p);
    const label = svgEl('text');
    
    
    label.setAttribute('x', onRight ? 982 : 1291);
    label.setAttribute('y', ty + 19);
    label.setAttribute('text-anchor', onRight ? 'start' : 'end');
    label.setAttribute('textLength', labelWidth(str));
    label.setAttribute('lengthAdjust', 'spacingAndGlyphs');
    label.textContent = str;
    panel.appendChild(label);
  }
}

// ---- colorbars ----
const barsGroup = document.getElementById('colorbars');

function barBand(x, y, w, h, fill){
  const band = svgEl('rect');
  
  
  band.setAttribute('x', x);
  band.setAttribute('y', y);
  band.setAttribute('width', w);
  band.setAttribute('height', h);
  band.setAttribute('fill', fill);
  barsGroup.appendChild(band);
}
function barTick(x, y, value, labelY){
  const tick = svgEl('line');
  
  
  tick.setAttribute('x1', x);
  tick.setAttribute('x2', x);
  tick.setAttribute('y1', y);
  tick.setAttribute('y2', y + 18);
  tick.setAttribute('stroke', '#000');
  tick.setAttribute('stroke-width', 3);
  barsGroup.appendChild(tick);

  const str = numberText(value);
  const label = svgEl('text');
  
  
  label.setAttribute('x', x);
  label.setAttribute('y', labelY);
  label.setAttribute('text-anchor', 'middle');
  label.setAttribute('textLength', labelWidth(str));
  label.setAttribute('lengthAdjust', 'spacingAndGlyphs');
  label.textContent = str;
  barsGroup.appendChild(label);
}

// temperature colorbar
const tBar = {x:247, w:697, top:1305.5, bottom:1339.7};
const tStep = tBar.w / (tempBins.length - 1);
tempBarColors.forEach((c, i) => barBand(tBar.x + i * tStep, tBar.top, tStep + 0.5, tBar.bottom - tBar.top, c));
const tOutline = svgEl('rect');


tOutline.setAttribute('x', tBar.x);
tOutline.setAttribute('y', tBar.top);
tOutline.setAttribute('width', tBar.w);
tOutline.setAttribute('height', tBar.bottom - tBar.top);
tOutline.setAttribute('fill', 'none');
tOutline.setAttribute('stroke', '#000');
tOutline.setAttribute('stroke-width', 4.4);
barsGroup.appendChild(tOutline);
tempBins.forEach((v, i) => barTick(tBar.x + i * tStep, tBar.bottom + 1, v, 1413));

// wind colorbar
const wBar = {x:1360, w:635, top:1305, bottom:1336.7, tipL:1328, tipR:2028};
const wStep = wBar.w / (windBins.length - 1);
const wMid = (wBar.top + wBar.bottom) / 2;
const lowCap = svgEl('polygon');


lowCap.setAttribute('points', wBar.x + ',' + wBar.top + ' ' + wBar.tipL + ',' + wMid + ' ' + wBar.x + ',' + wBar.bottom);
lowCap.setAttribute('fill', windColors['-10']);
barsGroup.appendChild(lowCap);
const highCap = svgEl('polygon');


highCap.setAttribute('points', (wBar.x + wBar.w) + ',' + wBar.top + ' ' + wBar.tipR + ',' + wMid + ' ' + (wBar.x + wBar.w) + ',' + wBar.bottom);
highCap.setAttribute('fill', windColors['10']);
barsGroup.appendChild(highCap);
windBarColors.forEach((c, i) => barBand(wBar.x + i * wStep, wBar.top, wStep + 0.5, wBar.bottom - wBar.top, c));
const wOutline = svgEl('polygon');


wOutline.setAttribute('points', [
  wBar.x + ',' + wBar.top, (wBar.x + wBar.w) + ',' + wBar.top, wBar.tipR + ',' + wMid,
  (wBar.x + wBar.w) + ',' + wBar.bottom, wBar.x + ',' + wBar.bottom, wBar.tipL + ',' + wMid
].join(' '));
wOutline.setAttribute('fill', 'none');
wOutline.setAttribute('stroke', '#000');
wOutline.setAttribute('stroke-width', 4.4);
barsGroup.appendChild(wOutline);
windBins.forEach((v, i) => barTick(wBar.x + i * wStep, wBar.bottom + 1, v, 1409));
</script>
</body>
</html>
